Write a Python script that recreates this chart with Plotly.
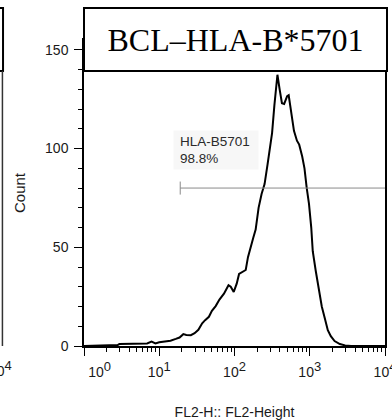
import math
import plotly.graph_objects as go

# ---- data (FL2-Height fluorescence vs. count) ----
fl2_height = [1.0, 2.0, 2.8, 2.95, 4.0, 5.6, 6.9, 7.9, 8.9, 10, 12, 14.1, 16.6, 18.6, 20.9,
              22.9, 26.3, 29.5, 33.1, 37.2, 40.7, 45.7, 50.1, 56.2, 63.1, 72.4, 83.2, 89.1,
              97.7, 107, 115, 126, 141, 151, 162, 178, 191, 209, 229, 251, 275, 295, 316,
              339, 355, 372, 398, 427, 457, 501, 525, 575, 617, 676, 724, 794, 851, 912,
              977, 1047, 1096, 1202, 1318, 1445, 1585, 1738, 1905, 2138, 2512, 2951, 3548,
              10000]
count = [0, 0.3, 0.5, 1.0, 1.0, 1.0, 1.3, 2.2, 1.3, 1.9, 2.2, 2.7, 3.6, 4.3, 6.0,
         5.6, 5.5, 6.5, 8.2, 11.5, 13.1, 14.8, 17.8, 20.2, 23.5, 26.5, 30.8, 30.0,
         27.4, 31.6, 36.5, 37.5, 38.5, 45, 50, 55, 59, 70, 77, 82, 92, 100, 108,
         122, 132, 137.4, 130, 123, 122.6, 126.5, 127, 117, 109, 104, 102, 96, 90, 80,
         72, 60, 48, 38, 28, 20, 14, 8, 5, 2.5, 1.0, 0.3, 0,
         0]

x_tickvals = [1, 10, 100, 1000, 10000]
x_exponents = ["0", "1", "2", "3", "4"]
y_tickvals = [0, 50, 100, 150]

gate_x = [19, 10000]
gate_y = 80
gate_name = "HLA-B5701"
gate_pct = "98.8%"

title_text = "BCL–HLA-B*5701"
x_title = "FL2-H:: FL2-Height"
y_title = "Count"

sup = '<sup><span style="font-size:13px">{}</span></sup>'
x_ticktext = ["10" + sup.format(e) for e in x_exponents]
x_ticktext[0] = "&nbsp;" * 8 + x_ticktext[0]
x_minor = [m * d for d in [1, 10, 100, 1000] for m in range(2, 10)]

fig = go.Figure()
fig.add_trace(go.Scatter(x=fl2_height, y=count, mode="lines",
                         line=dict(color="black", width=2), showlegend=False,
                         hoverinfo="skip"))
# gate line
fig.add_trace(go.Scatter(x=gate_x, y=[gate_y, gate_y], mode="lines",
                         line=dict(color="#8a8a8a", width=1), showlegend=False,
                         hoverinfo="skip"))
fig.add_shape(type="line", xref="x", yref="y", x0=gate_x[0], x1=gate_x[0],
              y0=gate_y - 3.3, y1=gate_y + 3.3, line=dict(color="#8a8a8a", width=1))

font = "Liberation Sans, Arial, sans-serif"
axis_common = dict(showline=True, linecolor="black", mirror=True, ticks="outside",
                   tickcolor="black", showgrid=False, zeroline=False, automargin=False,
                   tickfont=dict(family=font, size=14, color="#1a1a1a"))

fig.update_xaxes(type="log", range=[0, 4], tickvals=x_tickvals, ticktext=x_ticktext,
                 ticklen=8, tickwidth=1, linewidth=2, ticklabelstandoff=4,
                 ticklabeloverflow="allow",
                 minor=dict(tickvals=x_minor, ticks="outside", ticklen=4,
                            tickcolor="black", tickwidth=1),
                 title=dict(text=x_title, font=dict(family=font, size=14, color="#1a1a1a"),
                            standoff=28),
                 **axis_common)
fig.update_yaxes(range=[0, 155], tickvals=y_tickvals, ticklen=8, tickwidth=1, linewidth=1.5,
                 ticklabelstandoff=3,
                 minor=dict(dtick=10, ticks="outside", ticklen=4, tickcolor="black",
                            tickwidth=1),
                 title=dict(text=y_title, font=dict(family=font, size=15, color="#1a1a1a"),
                            standoff=16),
                 **axis_common)

# gate label (log axis: annotation x given in log10 units)
fig.add_annotation(x=math.log10(gate_x[0]), y=gate_y, xref="x", yref="y", xanchor="left",
                   yanchor="bottom", xshift=-7, yshift=18,
                   text=gate_name + "<br>" + gate_pct, showarrow=False, align="left",
                   width=72, height=26, borderpad=6, bgcolor="#f7f7f7",
                   font=dict(family=font, size=13.5, color="#2a2a2a"))

# boxed title over plot top
fig.add_annotation(x=0.5, y=1.0016, xref="paper", yref="paper", xanchor="center",
                   yanchor="middle", xshift=1, text=title_text, showarrow=False,
                   width=301, height=61, borderpad=0, borderwidth=2,
                   bordercolor="black", bgcolor="white",
                   font=dict(family="Liberation Serif, Times New Roman, serif",
                             size=32, color="black"))

# fragments of the neighbouring panel at left edge
fig.add_shape(type="rect", xref="paper", yref="paper", x0=-0.36, x1=-0.269,
              y0=0.8987, y1=1.1046, line=dict(color="black", width=2))
fig.add_shape(type="line", xref="paper", yref="paper", x0=-0.271, x1=-0.271,
              y0=0.0, y1=0.8987, line=dict(color="#333333", width=1.5))
fig.add_annotation(x=-0.2326, y=-0.072, xref="paper", yref="paper", xanchor="right",
                   yanchor="middle", text="10" + sup.format("4"), showarrow=False,
                   font=dict(family=font, size=14, color="#1a1a1a"))

fig.update_layout(width=392, height=420, margin=dict(l=84, r=7, t=40, b=74),
                  paper_bgcolor="white", plot_bgcolor="white", showlegend=False)

fig.write_html("out.html", config={"displayModeBar": False},
               post_script="document.body.style.margin='0px';"
                           "document.body.style.overflow='hidden';")
